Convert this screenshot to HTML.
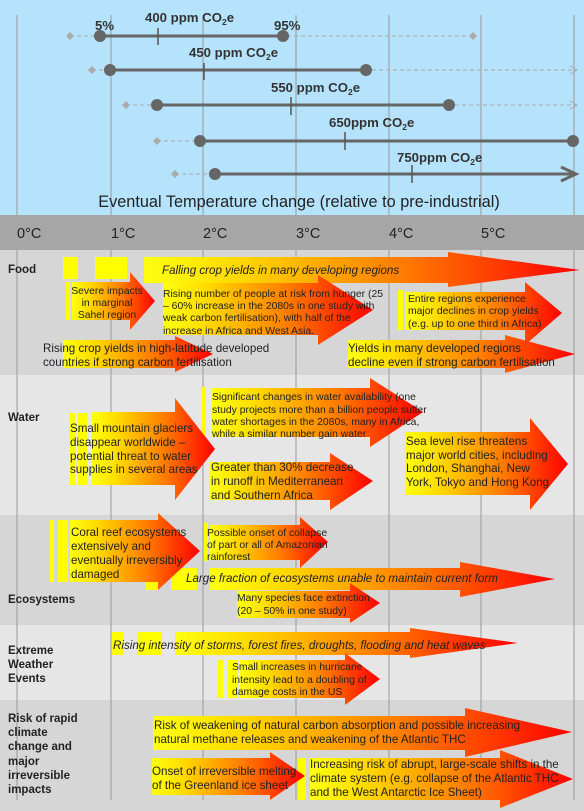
<!DOCTYPE html>
<html><head><meta charset="utf-8"><style>
html,body{margin:0;padding:0;width:584px;height:811px;overflow:hidden;background:#fff}
svg{display:block;font-family:"Liberation Sans",Arial,sans-serif}
.t{font-size:11.6px;fill:#222}
.s{font-size:10.4px;fill:#222}
.i{font-size:11.6px;fill:#222;font-style:italic}
.b{font-size:11.5px;font-weight:bold;fill:#222}
.p{font-size:13.2px;font-weight:bold;fill:#333}
.g{stroke:#999;stroke-width:1}
</style></head><body>
<svg width="584" height="811" viewBox="0 0 584 811">
<defs>
<linearGradient id="gr" x1="0" y1="0" x2="1" y2="0">
<stop offset="0" stop-color="#ffff10"/><stop offset="0.2" stop-color="#ffdc00"/><stop offset="0.6" stop-color="#ff7a00"/><stop offset="1" stop-color="#ff0000"/>
</linearGradient>
</defs>
<rect x="0" y="0" width="584" height="215" fill="#b5e3fb"/>
<rect x="0" y="215" width="584" height="35" fill="#a6a6a6"/>
<rect x="0" y="250" width="584" height="125" fill="#d6d6d6"/>
<rect x="0" y="375" width="584" height="140" fill="#e6e6e6"/>
<rect x="0" y="515" width="584" height="110" fill="#d6d6d6"/>
<rect x="0" y="625" width="584" height="75" fill="#e6e6e6"/>
<rect x="0" y="700" width="584" height="111" fill="#d6d6d6"/>
<g class="g">
<line x1="17" y1="15" x2="17" y2="215"/><line x1="111" y1="15" x2="111" y2="215"/><line x1="203" y1="15" x2="203" y2="215"/><line x1="296" y1="15" x2="296" y2="215"/><line x1="389" y1="15" x2="389" y2="215"/><line x1="481" y1="15" x2="481" y2="215"/><line x1="574" y1="15" x2="574" y2="215"/>
<line x1="17" y1="250" x2="17" y2="800"/><line x1="111" y1="250" x2="111" y2="800"/><line x1="203" y1="250" x2="203" y2="800"/><line x1="296" y1="250" x2="296" y2="800"/><line x1="389" y1="250" x2="389" y2="800"/><line x1="481" y1="250" x2="481" y2="800"/><line x1="574" y1="250" x2="574" y2="800"/>
</g>
<g stroke="#aaa" stroke-dasharray="4,3" stroke-width="1" fill="none">
<line x1="70" y1="36" x2="473" y2="36"/><line x1="92" y1="70" x2="576" y2="70"/><line x1="126" y1="105" x2="576" y2="105"/><line x1="157" y1="141" x2="200" y2="141"/><line x1="175" y1="174" x2="215" y2="174"/>
</g>
<g stroke="#aaa" fill="none"><polyline points="570,66 577,70 570,74"/><polyline points="570,101 577,105 570,109"/></g>
<g fill="#aaa">
<path d="M70,32 L74,36 L70,40 L66,36Z"/><path d="M473,32 L477,36 L473,40 L469,36Z"/><path d="M92,66 L96,70 L92,74 L88,70Z"/><path d="M126,101 L130,105 L126,109 L122,105Z"/><path d="M157,137 L161,141 L157,145 L153,141Z"/><path d="M175,170 L179,174 L175,178 L171,174Z"/>
</g>
<g stroke="#666" stroke-width="3"><line x1="100" y1="36" x2="283" y2="36"/><line x1="110" y1="70" x2="366" y2="70"/><line x1="157" y1="105" x2="449" y2="105"/><line x1="200" y1="141" x2="573" y2="141"/><line x1="215" y1="174" x2="575" y2="174"/></g>
<polyline points="561,167 576,174 561,181" stroke="#666" stroke-width="3" fill="none"/>
<g stroke="#555" stroke-width="1.5"><line x1="158" y1="28" x2="158" y2="45"/><line x1="204" y1="63" x2="204" y2="80"/><line x1="291" y1="97" x2="291" y2="115"/><line x1="345" y1="132" x2="345" y2="150"/><line x1="412" y1="165" x2="412" y2="183"/></g>
<g fill="#666"><circle cx="100" cy="36" r="6"/><circle cx="283" cy="36" r="6"/><circle cx="110" cy="70" r="6"/><circle cx="366" cy="70" r="6"/><circle cx="157" cy="105" r="6"/><circle cx="449" cy="105" r="6"/><circle cx="200" cy="141" r="6"/><circle cx="573" cy="141" r="6"/><circle cx="215" cy="174" r="6"/></g>
<text class="p" x="95" y="30">5%</text><text class="p" x="274" y="30">95%</text>
<text class="p" x="145" y="22">400 ppm CO<tspan font-size="8.5" dy="3">2</tspan><tspan dy="-3">e</tspan></text>
<text class="p" x="189" y="57">450 ppm CO<tspan font-size="8.5" dy="3">2</tspan><tspan dy="-3">e</tspan></text>
<text class="p" x="271" y="92">550 ppm CO<tspan font-size="8.5" dy="3">2</tspan><tspan dy="-3">e</tspan></text>
<text class="p" x="329" y="127">650ppm CO<tspan font-size="8.5" dy="3">2</tspan><tspan dy="-3">e</tspan></text>
<text class="p" x="397" y="162">750ppm CO<tspan font-size="8.5" dy="3">2</tspan><tspan dy="-3">e</tspan></text>
<text x="299" y="207" text-anchor="middle" font-size="16.3" fill="#222">Eventual Temperature change (relative to pre-industrial)</text>
<g font-size="14.5" fill="#222"><text x="17" y="238">0°C</text><text x="111" y="238">1°C</text><text x="203" y="238">2°C</text><text x="296" y="238">3°C</text><text x="389" y="238">4°C</text><text x="481" y="238">5°C</text></g>
<text class="b" x="8" y="273">Food</text>
<text class="b" x="8" y="421">Water</text>
<text class="b" x="8" y="603">Ecosystems</text>
<text class="b"><tspan x="8" y="654">Extreme</tspan><tspan x="8" y="668">Weather</tspan><tspan x="8" y="682">Events</tspan></text>
<text class="b"><tspan x="8" y="722">Risk of rapid</tspan><tspan x="8" y="736">climate</tspan><tspan x="8" y="750">change and</tspan><tspan x="8" y="765">major</tspan><tspan x="8" y="779">irreversible</tspan><tspan x="8" y="793">impacts</tspan></text>
<g fill="#ffff00">
<rect x="63" y="257" width="15" height="22"/><rect x="95" y="257" width="32" height="22"/>
<rect x="66" y="282" width="4" height="38"/><rect x="398" y="290" width="5" height="40"/>
<rect x="70" y="413" width="5" height="72"/><rect x="78" y="413" width="9" height="72"/>
<rect x="201" y="387" width="5" height="50"/>
<rect x="50" y="520" width="4" height="62"/><rect x="58" y="520" width="10" height="62"/>
<rect x="146" y="568" width="12" height="22"/><rect x="171" y="568" width="26" height="22"/>
<rect x="204" y="523" width="4" height="38"/>
<rect x="112" y="632" width="12" height="23"/><rect x="137" y="632" width="25" height="23"/>
<rect x="218" y="660" width="5" height="38"/><rect x="228" y="660" width="10" height="38"/>
<rect x="298" y="758" width="8" height="42"/>
</g>
<g fill="url(#gr)">
<path d="M144,257 L448,257 L448,252 L580,270 L448,287 L448,283 L144,283Z"/>
<path d="M72,282 L130,282 L130,272 L155,301 L130,330 L130,320 L72,320Z"/>
<path d="M163,283 L318,283 L318,275 L373,310 L318,345 L318,335 L163,335Z"/>
<path d="M405,292 L525,292 L525,282 L562,313 L525,345 L525,330 L405,330Z"/>
<path d="M63,340 L175,340 L175,336 L213,354 L175,372 L175,368 L63,368Z"/>
<path d="M348,340 L505,340 L505,335 L575,354 L505,373 L505,368 L348,368Z"/>
<path d="M92,412 L175,412 L175,398 L215,449 L175,500 L175,485 L92,485Z"/>
<path d="M212,388 L370,388 L370,378 L423,412 L370,447 L370,437 L212,437Z"/>
<path d="M210,462 L330,462 L330,453 L373,481 L330,510 L330,500 L210,500Z"/>
<path d="M405,432 L530,432 L530,418 L568,464 L530,510 L530,495 L405,495Z"/>
<path d="M70,520 L158,520 L158,513 L200,551 L158,590 L158,582 L70,582Z"/>
<path d="M210,525 L300,525 L300,517 L328,542 L300,568 L300,560 L210,560Z"/>
<path d="M210,568 L460,568 L460,562 L555,579 L460,597 L460,590 L210,590Z"/>
<path d="M237,591 L350,591 L350,583 L380,603 L350,623 L350,618 L237,618Z"/>
<path d="M175,632 L410,632 L410,628 L518,643 L410,658 L410,655 L175,655Z"/>
<path d="M240,660 L345,660 L345,653 L380,679 L345,705 L345,698 L240,698Z"/>
<path d="M153,716 L465,716 L465,708 L572,732 L465,757 L465,750 L153,750Z"/>
<path d="M152,758 L270,758 L270,752 L305,776 L270,800 L270,795 L152,795Z"/>
<path d="M310,758 L500,758 L500,750 L573,779 L500,808 L500,800 L310,800Z"/>
</g>
<text class="i" x="162" y="274">Falling crop yields in many developing regions</text>
<text class="s" text-anchor="middle"><tspan x="107" y="294">Severe impacts</tspan><tspan x="107" y="306">in marginal</tspan><tspan x="107" y="318">Sahel region</tspan></text>
<text class="s"><tspan x="163" y="297">Rising number of people at risk from hunger (25</tspan><tspan x="163" y="309">– 60% increase in the 2080s in one study with</tspan><tspan x="163" y="321">weak carbon fertilisation), with half of the</tspan><tspan x="163" y="334">increase in Africa and West Asia.</tspan></text>
<text class="s"><tspan x="408" y="302">Entire regions experience</tspan><tspan x="408" y="314">major declines in crop yields</tspan><tspan x="408" y="327">(e.g. up to one third in Africa)</tspan></text>
<text class="t"><tspan x="43" y="352">Rising crop yields in high-latitude developed</tspan><tspan x="43" y="366">countries if strong carbon fertilisation</tspan></text>
<text class="t"><tspan x="348" y="352">Yields in many developed regions</tspan><tspan x="348" y="366">decline even if strong carbon fertilisation</tspan></text>
<text class="t"><tspan x="70" y="432">Small mountain glaciers</tspan><tspan x="70" y="446">disappear worldwide –</tspan><tspan x="70" y="460">potential threat to water</tspan><tspan x="70" y="473">supplies in several areas</tspan></text>
<text class="s"><tspan x="212" y="400">Significant changes in water availability (one</tspan><tspan x="212" y="413">study projects more than a billion people suffer</tspan><tspan x="212" y="425">water shortages in the 2080s, many in Africa,</tspan><tspan x="212" y="437">while a similar number gain water</tspan></text>
<text class="t"><tspan x="211" y="471">Greater than 30% decrease</tspan><tspan x="211" y="485">in runoff in Mediterranean</tspan><tspan x="211" y="499">and Southern Africa</tspan></text>
<text class="t"><tspan x="406" y="445">Sea level rise threatens</tspan><tspan x="406" y="459">major world cities, including</tspan><tspan x="406" y="472">London, Shanghai, New</tspan><tspan x="406" y="486">York, Tokyo and Hong Kong</tspan></text>
<text class="t"><tspan x="71" y="536">Coral reef ecosystems</tspan><tspan x="71" y="550">extensively and</tspan><tspan x="71" y="564">eventually irreversibly</tspan><tspan x="71" y="578">damaged</tspan></text>
<text class="s"><tspan x="207" y="536">Possible onset of collapse</tspan><tspan x="207" y="548">of part or all of Amazonian</tspan><tspan x="207" y="560">rainforest</tspan></text>
<text class="i" x="186" y="582">Large fraction of ecosystems unable to maintain current form</text>
<text class="s"><tspan x="237" y="601">Many species face extinction</tspan><tspan x="237" y="614">(20 – 50% in one study)</tspan></text>
<text class="i" x="113" y="649">Rising intensity of storms, forest fires, droughts, flooding and heat waves</text>
<text class="s"><tspan x="232" y="670">Small increases in hurricane</tspan><tspan x="232" y="683">intensity lead to a doubling of</tspan><tspan x="232" y="695">damage costs in the US</tspan></text>
<text class="t"><tspan x="154" y="729">Risk of weakening of natural carbon absorption and possible increasing</tspan><tspan x="154" y="743">natural methane releases and weakening of the Atlantic THC</tspan></text>
<text class="t"><tspan x="152" y="775">Onset of irreversible melting</tspan><tspan x="152" y="789">of the Greenland ice sheet</tspan></text>
<text class="t"><tspan x="310" y="768">Increasing risk of abrupt, large-scale shifts in the</tspan><tspan x="310" y="782">climate system (e.g. collapse of the Atlantic THC</tspan><tspan x="310" y="796">and the West Antarctic Ice Sheet)</tspan></text>
</svg>
</body></html>
